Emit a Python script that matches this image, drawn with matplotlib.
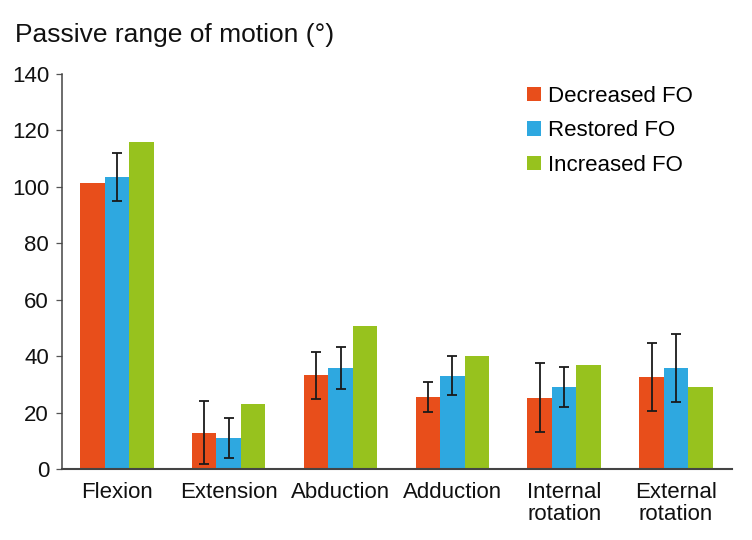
import numpy as np
import matplotlib
matplotlib.use("Agg")
import matplotlib.pyplot as plt

plt.rcParams['font.family'] = ['Liberation Sans', 'DejaVu Sans']

categories = ['Flexion', 'Extension', 'Abduction', 'Adduction',
              'Internal\nrotation', 'External\nrotation']
series = ['Decreased FO', 'Restored FO', 'Increased FO']
colors = ['#E84E1B', '#2EA8E0', '#97C21E']

decreased = [101.3, 12.9, 33.2, 25.6, 25.3, 32.7]
restored = [103.6, 11.0, 35.9, 33.1, 29.1, 35.8]
increased = [115.8, 23.0, 50.8, 40.0, 37.0, 29.0]

# error bars (SD); None = no bar drawn
decreased_err = [None, 11.2, 8.3, 5.4, 12.1, 12.0]
restored_err = [8.5, 7.1, 7.5, 7.0, 7.2, 12.0]

fig = plt.figure(figsize=(7.52, 5.4), dpi=100)
ax = fig.add_axes([62 / 752, 1 - 469 / 540, 670 / 752, 395 / 540])

x = np.arange(len(categories))
w = 0.219
values = [decreased, restored, increased]
errs = [decreased_err, restored_err, None]

for i, (vals, col, name) in enumerate(zip(values, colors, series)):
    pos = x + (i - 1) * w
    ax.bar(pos, vals, width=w, color=col, label=name, zorder=2)
    if errs[i] is not None:
        for p, v, e in zip(pos, vals, errs[i]):
            if e is None:
                continue
            ax.errorbar(p, v, yerr=e, fmt='none', ecolor='#1a1a1a',
                        elinewidth=1.3, capsize=3.3, capthick=1.3, zorder=3)

ax.set_xlim(-0.49, 5.5)
ax.set_ylim(0, 140)
ax.set_yticks(range(0, 141, 20))
ax.set_xticks(x)
ax.set_xticklabels(categories, fontsize=16, linespacing=1.05)

for s in ['top', 'right']:
    ax.spines[s].set_visible(False)
ax.spines['left'].set_color('#444444')
ax.spines['left'].set_linewidth(1.1)
ax.spines['bottom'].set_color('#444444')
ax.spines['bottom'].set_linewidth(1.5)

ax.tick_params(axis='y', length=4.3, width=0.9, color='#555555',
               labelsize=16, pad=5, labelcolor='#111111')
ax.tick_params(axis='x', length=0, pad=9.5, labelcolor='#111111')

fig.text(15 / 752, 1 - 35 / 540, 'Passive range of motion (°)',
         fontsize=19, va='center', ha='left', color='#111111')

ax.legend(loc='upper left', bbox_to_anchor=(527 / 752, 1 - 86 / 540),
          bbox_transform=fig.transFigure, frameon=False, fontsize=16,
          handlelength=0.63, handleheight=0.63, handletextpad=0.3,
          labelspacing=0.6, borderpad=0, borderaxespad=0)

fig.savefig('out.png', dpi=100)
